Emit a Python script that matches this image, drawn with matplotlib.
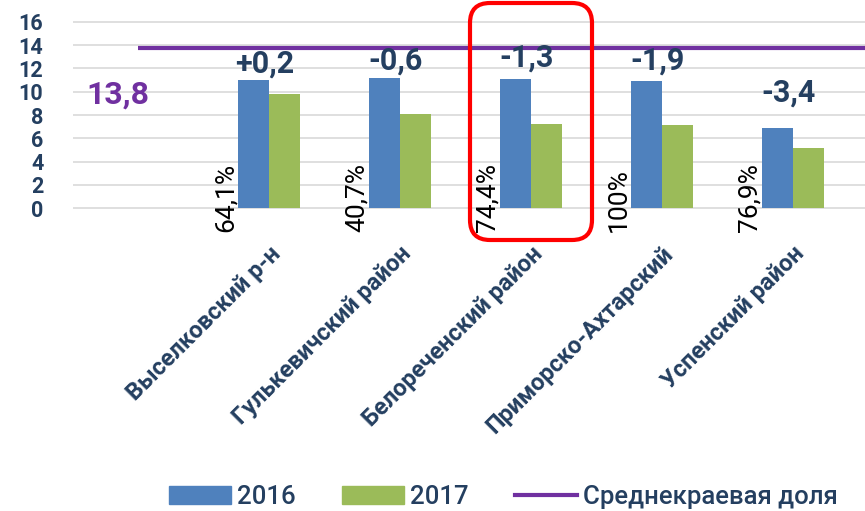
import numpy as np
import matplotlib.pyplot as plt
from matplotlib.patches import FancyBboxPatch, Patch
from matplotlib.lines import Line2D
from matplotlib.transforms import IdentityTransform

plt.rcParams['font.family'] = ['Roboto', 'DejaVu Sans']

regions = ['Выселковский р-н', 'Гулькевичский район', 'Белореченский район',
           'Приморско-Ахтарский', 'Успенский район']
val_2016 = [11.0, 11.2, 11.1, 10.9, 6.9]
val_2017 = [9.8, 8.1, 7.25, 7.1, 5.2]
changes = ['+0,2', '-0,6', '-1,3', '-1,9', '-3,4']
change_y = [12.4, 12.65, 12.9, 12.65, 9.9]
shares = ['64,1%', '40,7%', '74,4%', '100%', '76,9%']
avg_share = [13.8, 13.8, 13.8, 13.8, 13.8, 13.8, 13.8]

navy = '#243F60'
blue = '#4F81BD'
green = '#9BBB59'
purple = '#7030A0'

fig = plt.figure(figsize=(8.65, 5.11), dpi=100)
W, H = 865, 511
px = 11.625  # pixels per unit
ylo, yhi = -0.1, 16.1
bottom_px = 208 + (0 - ylo) * px
height_px = (yhi - ylo) * px
ax = fig.add_axes([72.5 / W, (H - bottom_px) / H, 792.5 / W, height_px / H])

x = np.arange(1, len(regions) + 1)
bw = 0.24
ax.bar(x - bw / 2, val_2016, bw, color=blue, zorder=2)
ax.bar(x + bw / 2, val_2017, bw, color=green, zorder=2)
ax.plot(np.arange(len(avg_share)), avg_share, color=purple, lw=3, zorder=3,
        solid_capstyle='butt')

ax.set_xlim(-0.5, 5.55)
ax.set_ylim(ylo, yhi)
ax.set_yticks(range(0, 17, 2))
ax.set_yticklabels([str(v) for v in range(0, 17, 2)], fontsize=15.5,
                   color=navy, fontweight='bold')
ax.tick_params(axis='y', length=0, pad=21)
ax.set_xticks([])
ax.yaxis.grid(True, color='#D9D9D9', lw=1.2, zorder=0)
for s in ax.spines.values():
    s.set_visible(False)

# value labels
for xi, c, cy in zip(x, changes, change_y):
    ax.text(xi - 0.03, cy, c, ha='center', va='center', fontsize=22,
            fontweight='bold', color=navy)
ax.text(-0.15, 9.8, '13,8', ha='center', va='center', fontsize=23,
        fontweight='bold', color=purple)

# share labels
for xi, s in zip(x, shares):
    ax.text(xi - bw, -2.05, s, rotation=90, rotation_mode='anchor',
            ha='left', va='bottom', fontsize=19, color='black', clip_on=False)

# category labels
ytr = ax.get_xaxis_transform()
for xi, r in zip(x, regions):
    ax.text(xi + 0.0, (bottom_px - 242) / height_px, r, rotation=45,
            rotation_mode='anchor', ha='right', va='top', fontsize=17,
            fontweight='bold', color=navy, transform=ytr, clip_on=False)

# highlight box
box = FancyBboxPatch((470, H - 240), 122, 237,
                     boxstyle='round,pad=0,rounding_size=20',
                     fill=False, edgecolor='#FF0000', lw=3,
                     transform=IdentityTransform())
fig.patches.append(box)

handles = [Patch(color=blue), Patch(color=green),
           Line2D([], [], color=purple, lw=3)]
fig.legend(handles, ['2016', '2017', 'Среднекраевая доля'], ncol=3,
           loc='center', bbox_to_anchor=(0.582, 0.028), frameon=False,
           labelcolor=navy, handlelength=2.4, handleheight=0.7,
           columnspacing=1.8, handletextpad=0.25,
           prop={'weight': 'medium', 'size': 18.5})

fig.savefig('out.png', dpi=100)
